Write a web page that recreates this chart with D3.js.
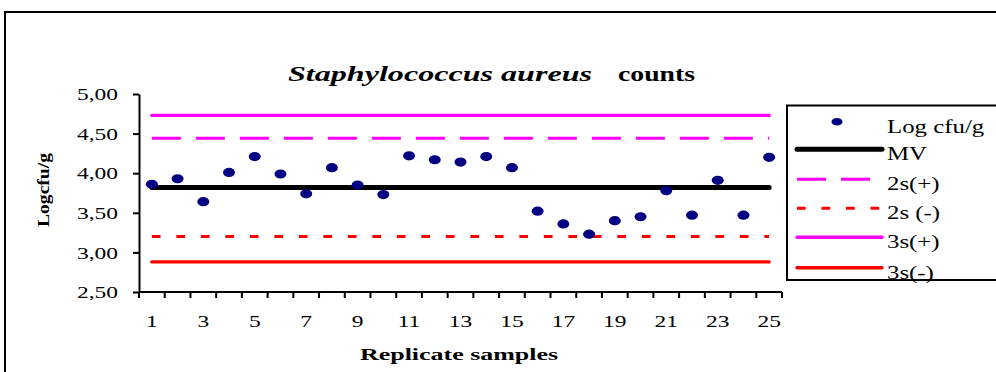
<!DOCTYPE html>
<html>
<head>
<meta charset="utf-8">
<script src="https://cdn.jsdelivr.net/npm/d3@7"></script>
<style>
  html, body { margin: 0; padding: 0; background: #fff; }
  svg { display: block; }
  text, tspan { font-family: "Liberation Serif", "Times New Roman", serif; fill: #000; }
</style>
</head>
<body>
<svg id="chart" width="996" height="372"></svg>
<script>
// ---- data ----
const samples = d3.range(1, 26);
const logCfu = [3.86, 3.93, 3.64, 4.01, 4.21, 3.99, 3.74, 4.07, 3.85, 3.73,
                4.22, 4.17, 4.14, 4.21, 4.07, 3.52, 3.36, 3.23, 3.40, 3.45,
                3.78, 3.47, 3.91, 3.47, 4.20];
const limitNames = ["MV", "2s(+)", "2s (-)", "3s(+)", "3s(-)"];
const limitValues = [3.82, 4.44, 3.20, 4.73, 2.88];
const yTicks = [2.5, 3.0, 3.5, 4.0, 4.5, 5.0];
const xTickLabels = [1, 3, 5, 7, 9, 11, 13, 15, 17, 19, 21, 23, 25];
const title1 = "Staphylococcus aureus";
const title2 = "counts";
const xTitle = "Replicate samples";
const yTitle = "Logcfu/g";
const pointLegend = "Log cfu/g";

// ---- styles ----
const SX = 1.38;
const FONT = "'Liberation Serif', 'Times New Roman', serif";
const limitStyle = {
  "MV":     { color: "#000000", width: 5,   dash: null,        cap: "round" },
  "2s(+)":  { color: "#FF00FF", width: 3,   dash: "29,15",     cap: "butt" },
  "2s (-)": { color: "#FF0000", width: 3,   dash: "8.7,15.8",  cap: "butt" },
  "3s(+)":  { color: "#FF00FF", width: 3.4, dash: null,        cap: "round" },
  "3s(-)":  { color: "#FF0000", width: 3.4, dash: null,        cap: "round" }
};

const svg = d3.select("#chart");

// outer frame
svg.append("rect").attr("x", 5).attr("y", 12).attr("width", 1010).attr("height", 400)
  .attr("fill", "none").attr("stroke", "#000").attr("stroke-width", 2);

const x = d3.scaleBand().domain(samples).range([139, 782]).padding(0);
const y = d3.scaleLinear().domain([2.5, 5]).range([292, 94]);
const bw = x.bandwidth();
const cx = d => x(d) + bw / 2;

// title (two parts, stretched horizontally like the reference)
svg.append("text").attr("x", 288).attr("y", 81)
  .style("font-family", FONT).style("font-style", "italic").style("font-weight", "bold")
  .attr("font-size", 20).attr("textLength", 304).attr("lengthAdjust", "spacingAndGlyphs")
  .text(title1);
svg.append("text").attr("x", 618).attr("y", 81)
  .style("font-family", FONT).style("font-weight", "bold")
  .attr("font-size", 20).attr("textLength", 77).attr("lengthAdjust", "spacingAndGlyphs")
  .text(title2);

// y axis
const yAxis = svg.append("g").attr("transform", "translate(139,0)")
  .call(d3.axisLeft(y).tickValues(yTicks).tickSizeInner(6).tickSizeOuter(0)
    .tickFormat(d => d.toFixed(2).replace(".", ",")));
yAxis.select(".domain").attr("stroke-width", 2);
yAxis.selectAll(".tick line").attr("stroke-width", 2);
yAxis.selectAll(".tick text")
  .attr("font-family", FONT).attr("font-size", 17)
  .attr("x", -21 / SX).attr("dy", "0.33em")
  .attr("transform", `scale(${SX},1)`);

// x axis: line + ticks at band boundaries
const gx = svg.append("g");
gx.append("line").attr("x1", x.range()[0]).attr("x2", x.range()[1])
  .attr("y1", y(2.5)).attr("y2", y(2.5)).attr("stroke", "#000").attr("stroke-width", 2);
const bounds = samples.map(d => x(d)).concat([x.range()[1]]);
gx.selectAll("line.tk").data(bounds).join("line").attr("class", "tk")
  .attr("x1", d => d).attr("x2", d => d)
  .attr("y1", y(2.5)).attr("y2", y(2.5) + 6)
  .attr("stroke", "#000").attr("stroke-width", 2);
gx.selectAll("text.xl").data(xTickLabels).join("text").attr("class", "xl")
  .attr("text-anchor", "middle").attr("font-size", 17)
  .attr("transform", d => `translate(${cx(d)},327) scale(${SX},1)`)
  .text(d => d);

// axis titles
svg.append("text").attr("x", 360).attr("y", 360)
  .attr("font-size", 17).attr("font-weight", "bold")
  .attr("textLength", 198).attr("lengthAdjust", "spacingAndGlyphs")
  .text(xTitle);
svg.append("text")
  .attr("transform", "translate(49,227) rotate(-90)")
  .attr("font-size", 17).attr("font-weight", "bold")
  .attr("textLength", 74).attr("lengthAdjust", "spacingAndGlyphs")
  .text(yTitle);

// limit lines
const first = samples[0], last = samples[samples.length - 1];
limitNames.forEach((n, i) => {
  const s = limitStyle[n];
  svg.append("line")
    .attr("x1", cx(first)).attr("x2", cx(last))
    .attr("y1", y(limitValues[i])).attr("y2", y(limitValues[i]))
    .attr("stroke", s.color).attr("stroke-width", s.width)
    .attr("stroke-dasharray", s.dash).attr("stroke-linecap", s.cap);
});

// points
svg.selectAll("ellipse.pt").data(logCfu).join("ellipse").attr("class", "pt")
  .attr("cx", (d, i) => cx(samples[i])).attr("cy", d => y(d))
  .attr("rx", 6).attr("ry", 4.6).attr("fill", "#000080");

// legend
const lg = svg.append("g");
lg.append("rect").attr("x", 787).attr("y", 105.5).attr("width", 230).attr("height", 174.5)
  .attr("fill", "#fff").attr("stroke", "#000").attr("stroke-width", 2);
const rowY = [121.7, 149.3, 179.3, 208.3, 237.3, 267.7];
lg.append("ellipse").attr("cx", 837).attr("cy", rowY[0]).attr("rx", 5.5).attr("ry", 3.8).attr("fill", "#000080");
lg.append("text").attr("font-size", 18)
  .attr("transform", `translate(887,${rowY[0] + 11.5}) scale(${SX},1)`).text(pointLegend);
limitNames.forEach((n, i) => {
  const s = limitStyle[n];
  const yy = rowY[i + 1];
  lg.append("line").attr("x1", 797).attr("x2", 882).attr("y1", yy).attr("y2", yy)
    .attr("stroke", s.color).attr("stroke-width", s.width)
    .attr("stroke-dasharray", s.dash).attr("stroke-linecap", s.cap);
  lg.append("text").attr("font-size", 18)
    .attr("transform", `translate(887,${yy + 11}) scale(${SX},1)`).text(n);
});
</script>
</body>
</html>
